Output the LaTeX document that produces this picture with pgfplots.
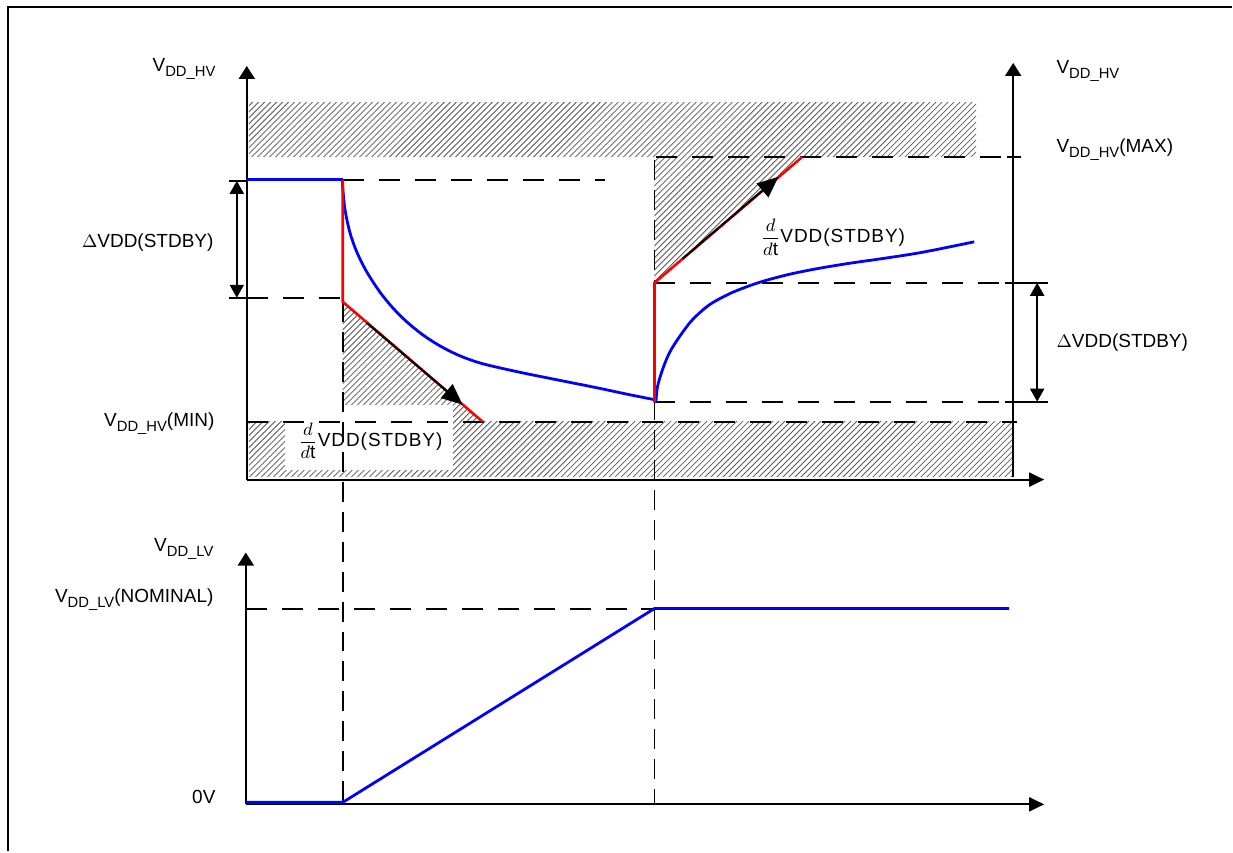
\documentclass[border=0pt]{standalone}
\usepackage{amsmath}
\usepackage{fontspec}
\setmainfont{Liberation Sans}
\usepackage{pgfplots}
\pgfplotsset{compat=1.18}
\usetikzlibrary{patterns,arrows.meta}

\newcommand{\lbl}{\fontsize{9.5}{11}\selectfont}
\newcommand{\sub}[1]{\raisebox{-2.4pt}{\fontsize{7.4}{8}\selectfont #1}}
\newcommand{\ddt}{$\displaystyle\frac{d}{d\text{t}}$}
\newcommand{\stdby}{{\addfontfeature{LetterSpace=5}VDD(STDBY)}}

\tikzset{
  axl/.style={black, line width=1pt},
  dsh/.style={black, line width=1pt, dash pattern=on 10.5pt off 7.5pt},
  vdsh/.style={black, line width=0.9pt, dash pattern=on 10pt off 5pt},
  hatch/.style={draw=none, pattern=north east lines, pattern color=black!65},
  vup/.style={-{Triangle[length=6.5pt,width=8pt]}},
  hright/.style={-{Triangle[length=7.5pt,width=7pt]}},
  dbl/.style={{Triangle[length=6.5pt,width=7pt]}-{Triangle[length=6.5pt,width=7pt]}},
  slope/.style={black, line width=1pt, -{Triangle[length=10.5pt,width=9pt]}},
  sig/.style={color={rgb,255:red,0;green,0;blue,255}, line width=1.4pt},
  rd/.style={color={rgb,255:red,255;green,0;blue,0}, line width=1.3pt},
  lab/.style={font=\lbl, inner sep=0pt},
}

\begin{document}
\begin{tikzpicture}
\begin{axis}[
  scale only axis, width=616.5pt, height=426pt,
  xmin=0, xmax=1233, ymin=0, ymax=852, y dir=reverse,
  ticks=none, axis line style={draw=none}, clip=false, no marks,
]
% frame
\addplot[black, line width=1pt] coordinates {(8,852) (8,7) (1233,7)};

% forbidden regions (hatched)
\addplot[hatch] coordinates {(249,103) (977,103) (977,157) (249,157)};
\addplot[hatch] coordinates {(655,157) (803,157) (655,283)};
\addplot[hatch] coordinates {(249,422) (1013,422) (1013,477) (249,477)};
\addplot[hatch] coordinates {(343,302) (483,422) (343,422)};
% white box behind the lower label
\addplot[draw=none, fill=white] coordinates {(285,405) (453,405) (453,470) (285,470)};

% dashed guides
\addplot[dsh] coordinates {(343,180) (605,180)};
\addplot[dsh] coordinates {(657,157) (1006,157)};
\addplot[dsh] coordinates {(247,298) (343,298)};
\addplot[dsh] coordinates {(655,283) (1022,283)};
\addplot[dsh] coordinates {(655,402) (1022,402)};
\addplot[dsh] coordinates {(247,422) (1018,422)};
\addplot[dsh] coordinates {(246,609) (655,609)};
\addplot[vdsh] coordinates {(343,302) (343,805)};
\addplot[vdsh] coordinates {(655,160) (655,805)};

% axes
\addplot[axl, vup] coordinates {(247,480) (247,66)};
\addplot[axl, hright] coordinates {(247,480) (1045,480)};
\addplot[axl, vup] coordinates {(1014,477) (1014,63)};
\addplot[axl, vup] coordinates {(246,805) (246,553)};
\addplot[axl, hright] coordinates {(246,805) (1045,805)};

% delta arrows and end ticks
\addplot[axl, dbl] coordinates {(237,181) (237,298)};
\addplot[axl] coordinates {(229,181) (246,181)};
\addplot[axl] coordinates {(229,298) (246,298)};
\addplot[axl, dbl] coordinates {(1038,283) (1038,402)};
\addplot[axl] coordinates {(1006,283) (1049,283)};
\addplot[axl] coordinates {(1006,402) (1049,402)};
\addplot[axl] coordinates {(1008,157) (1022,157)};

% VDD_HV signal
\addplot[sig] coordinates {(247,180) (343,180)};
\addplot[sig, smooth] coordinates {
  (342.5,181) (345,208) (350,232) (357,252) (367,272) (380,292) (393,308)
  (407,322) (423,335) (440,346) (460,356) (483,364) (520,372.5) (557,380)
  (597,388) (630,395) (655,400)};
\addplot[sig, smooth] coordinates {
  (656.5,402) (658,387) (663,370) (670,353) (680,337) (693,320) (710,305)
  (730,294) (750,286) (767,280.5) (790,274.5) (817,269) (850,263.5)
  (885,258.5) (923,252.5) (975,242)};

% slew-rate limits
\addplot[rd] coordinates {(343,180) (343,302) (483,422)};
\addplot[rd] coordinates {(655,403) (655,283) (803,157)};
\addplot[slope] coordinates {(367,323) (463,405)};
\addplot[slope] coordinates {(683,259) (779,177)};

% VDD_LV signal
\addplot[sig] coordinates {(246,803) (343,803) (655,609) (1010,609)};

% labels
\node[lab, anchor=base east] at (axis cs:216,72) {V\sub{DD\_HV}};
\node[lab, anchor=base east] at (axis cs:214,248) {$\Delta$VDD(STDBY)};
\node[lab, anchor=base east] at (axis cs:215,427) {V\sub{DD\_HV}(MIN)};
\node[lab, anchor=base east] at (axis cs:214,552) {V\sub{DD\_LV}};
\node[lab, anchor=base east] at (axis cs:214,603) {V\sub{DD\_LV}(NOMINAL)};
\node[lab, anchor=base east] at (axis cs:216,804) {0V};
\node[lab, anchor=base west] at (axis cs:1057,74) {V\sub{DD\_HV}};
\node[lab, anchor=base west] at (axis cs:1057,153) {V\sub{DD\_HV}(MAX)};
\node[lab, anchor=base west] at (axis cs:1057,348) {$\Delta$VDD(STDBY)};
\node[lab, anchor=base west] at (axis cs:298,447) {\ddt\stdby};
\node[lab, anchor=base west] at (axis cs:761,243) {\ddt\stdby};
\end{axis}
\end{tikzpicture}
\end{document}
